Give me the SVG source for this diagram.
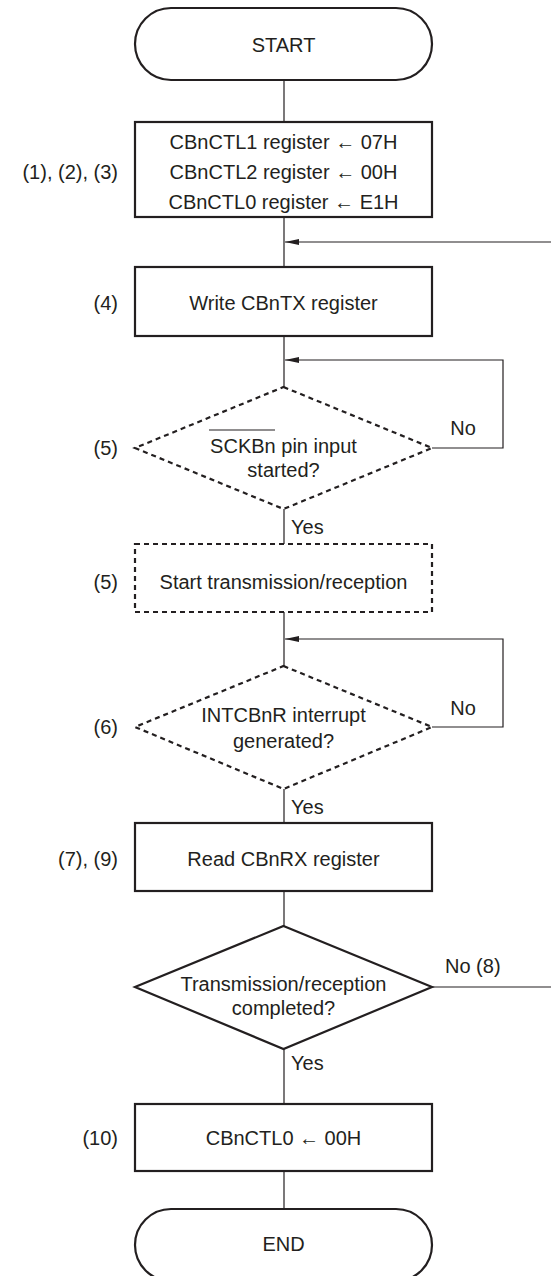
<svg xmlns="http://www.w3.org/2000/svg" width="551" height="1276" viewBox="0 0 551 1276">
<style>
text{font-family:"Liberation Sans",Arial,sans-serif;font-size:20px;fill:#231f20}
.c{text-anchor:middle}
.r{text-anchor:end}
.box{fill:#fff;stroke:#231f20;stroke-width:2.2}
.dash{fill:#fff;stroke:#231f20;stroke-width:2.2;stroke-dasharray:5 4}
.ln{fill:none;stroke:#231f20;stroke-width:1.2}
</style>
<defs>
<marker id="ah" viewBox="0 0 14 6" refX="14" refY="3" markerWidth="14" markerHeight="6" markerUnits="userSpaceOnUse" orient="auto">
<path d="M0,0 L14,3 L0,6 Z" fill="#231f20"/>
</marker>
</defs>
<g id="connectors">
<line class="ln" x1="284" y1="80" x2="284" y2="122"/>
<line class="ln" x1="284" y1="217" x2="284" y2="267"/>
<line class="ln" x1="284" y1="336" x2="284" y2="387"/>
<line class="ln" x1="284" y1="509" x2="284" y2="544"/>
<line class="ln" x1="284" y1="612" x2="284" y2="666"/>
<line class="ln" x1="284" y1="789" x2="284" y2="823"/>
<line class="ln" x1="284" y1="891" x2="284" y2="926"/>
<line class="ln" x1="284" y1="1049" x2="284" y2="1104"/>
<line class="ln" x1="284" y1="1171" x2="284" y2="1209"/>
<path class="ln" d="M432,448 H503 V360 H285" marker-end="url(#ah)"/>
<path class="ln" d="M432,727 H503 V639 H285" marker-end="url(#ah)"/>
<path class="ln" d="M432,987 H560 V242 H285" marker-end="url(#ah)"/>
<text x="463" y="435" class="c">No</text>
<text x="291" y="534">Yes</text>
<text x="463" y="715" class="c">No</text>
<text x="291" y="814">Yes</text>
<text x="445" y="973">No (8)</text>
<text x="291" y="1070">Yes</text>
</g>
<g id="start">
<rect class="box" x="135" y="8" width="297" height="72" rx="36" ry="36"/>
<text x="283.5" y="52" class="c">START</text>
</g>
<g id="init">
<rect class="box" x="135" y="122" width="297" height="95"/>
<text x="283.5" y="149" class="c">CBnCTL1 register ← 07H</text>
<text x="283.5" y="179" class="c">CBnCTL2 register ← 00H</text>
<text x="283.5" y="209" class="c">CBnCTL0 register ← E1H</text>
<text x="118" y="179" class="r">(1), (2), (3)</text>
</g>
<g id="write">
<rect class="box" x="135" y="267" width="297" height="69"/>
<text x="283.5" y="310" class="c">Write CBnTX register</text>
<text x="118" y="310" class="r">(4)</text>
</g>
<g id="sckb">
<polygon class="dash" points="283.5,387 432,448 283.5,509 135,448"/>
<text x="283.5" y="453" class="c">SCKBn pin input</text>
<line x1="209" y1="430" x2="275" y2="430" stroke="#231f20" stroke-width="1.2"/>
<text x="283.5" y="477" class="c">started?</text>
<text x="118" y="455" class="r">(5)</text>
</g>
<g id="startxr">
<rect class="dash" x="135" y="544" width="297" height="68"/>
<text x="283.5" y="589" class="c">Start transmission/reception</text>
<text x="118" y="589" class="r">(5)</text>
</g>
<g id="intr">
<polygon class="dash" points="283.5,666 432,727 283.5,789 135,727"/>
<text x="283.5" y="722" class="c">INTCBnR interrupt</text>
<text x="283.5" y="748" class="c">generated?</text>
<text x="118" y="734" class="r">(6)</text>
</g>
<g id="read">
<rect class="box" x="135" y="823" width="297" height="68"/>
<text x="283.5" y="866" class="c">Read CBnRX register</text>
<text x="118" y="866" class="r">(7), (9)</text>
</g>
<g id="done">
<polygon class="box" points="283.5,926 432,987 283.5,1049 135,987"/>
<text x="283.5" y="991" class="c">Transmission/reception</text>
<text x="283.5" y="1015" class="c">completed?</text>
</g>
<g id="clear">
<rect class="box" x="135" y="1104" width="297" height="67"/>
<text x="283.5" y="1145" class="c">CBnCTL0 ← 00H</text>
<text x="118" y="1145" class="r">(10)</text>
</g>
<g id="end">
<rect class="box" x="135" y="1209" width="297" height="72" rx="36" ry="36"/>
<text x="283.5" y="1251" class="c">END</text>
</g>
</svg>
